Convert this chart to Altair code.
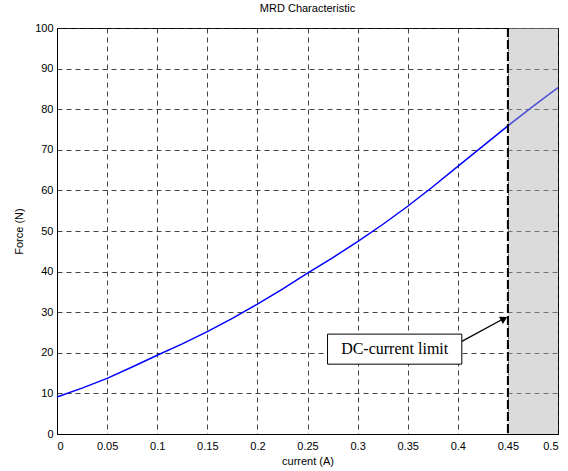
import altair as alt
import pandas as pd

# curve
current = [0.0, 0.025, 0.05, 0.075, 0.1, 0.125, 0.15, 0.175, 0.2, 0.225, 0.25,
           0.275, 0.3, 0.325, 0.35, 0.375, 0.4, 0.425, 0.45, 0.475, 0.5]
force = [9.1, 11.3, 13.7, 16.5, 19.4, 22.2, 25.2, 28.5, 32.0, 35.7, 39.6,
         43.4, 47.4, 51.6, 56.1, 60.9, 65.9, 70.9, 75.9, 80.7, 85.3]

x_ticks = [0, 0.05, 0.1, 0.15, 0.2, 0.25, 0.3, 0.35, 0.4, 0.45, 0.5]
y_ticks = [0, 10, 20, 30, 40, 50, 60, 70, 80, 90, 100]

limit_x = [0.45]
region_x = [0.45]
region_x2 = [0.5]

box_x = [0.27]
box_x2 = [0.404]
box_y = [17.2]
box_y2 = [24.6]
label_x = [0.337]
label_y = [20.9]
label_text = ["DC-current limit"]
arrow_x = [0.404]
arrow_y = [22.8]
arrow_x2 = [0.4465]
arrow_y2 = [28.5]
head_x = [0.4462]
head_y = [28.4]

curve_df = pd.DataFrame({"current": current, "force": force})
region_df = pd.DataFrame({"x": region_x, "x2": region_x2})
limit_df = pd.DataFrame({"x": limit_x})
box_df = pd.DataFrame({"x": box_x, "x2": box_x2, "y": box_y, "y2": box_y2})
label_df = pd.DataFrame({"x": label_x, "y": label_y, "t": label_text})
arrow_df = pd.DataFrame({"x": arrow_x, "y": arrow_y, "x2": arrow_x2, "y2": arrow_y2})
head_df = pd.DataFrame({"x": head_x, "y": head_y})

FONT = "Liberation Sans"

xscale = alt.Scale(domain=[0, 0.5], nice=False, zero=False)
yscale = alt.Scale(domain=[0, 100], nice=False)

common = dict(grid=True, ticks=False, domainColor="black", domainWidth=1,
              gridColor="#222222", gridDash=[5, 4], gridWidth=1, gridOpacity=0.85,
              labelFont=FONT, labelFontSize=11, labelColor="black",
              titleFont=FONT, titleFontSize=11, titleFontWeight="normal",
              titleColor="black")

xaxis = alt.Axis(values=x_ticks, format=".2~f", title="current (A)",
                 labelPadding=6, titlePadding=4, **common)
yaxis = alt.Axis(values=y_ticks, title="Force (N)",
                 labelPadding=4, titlePadding=10, **common)

line = alt.Chart(curve_df).mark_line(color="#0000ff", strokeWidth=1.5).encode(
    x=alt.X("current:Q", scale=xscale, axis=xaxis),
    y=alt.Y("force:Q", scale=yscale, axis=yaxis),
)

region = alt.Chart(region_df).mark_rect(color="#b0b0b0", opacity=0.45).encode(
    x=alt.X("x:Q", scale=xscale),
    x2="x2:Q",
    y=alt.value(0),
    y2=alt.value(406),
)

limit = alt.Chart(limit_df).mark_rule(color="black", strokeWidth=2,
                                      strokeDash=[9, 3]).encode(
    x=alt.X("x:Q", scale=xscale),
    y=alt.value(0),
    y2=alt.value(406),
)

arrow = alt.Chart(arrow_df).mark_rule(color="black", strokeWidth=1.3).encode(
    x=alt.X("x:Q", scale=xscale), x2="x2:Q",
    y=alt.Y("y:Q", scale=yscale), y2="y2:Q",
)

head = alt.Chart(head_df).mark_point(shape="triangle-up", filled=True,
                                     color="black", opacity=1, size=70,
                                     angle=61.5).encode(
    x=alt.X("x:Q", scale=xscale),
    y=alt.Y("y:Q", scale=yscale),
)

box = alt.Chart(box_df).mark_rect(fill="white", stroke="black",
                                  strokeWidth=1).encode(
    x=alt.X("x:Q", scale=xscale), x2="x2:Q",
    y=alt.Y("y:Q", scale=yscale), y2="y2:Q",
)

label = alt.Chart(label_df).mark_text(font="Liberation Serif", fontSize=16,
                                      color="black", align="center",
                                      baseline="middle").encode(
    x=alt.X("x:Q", scale=xscale),
    y=alt.Y("y:Q", scale=yscale),
    text="t:N",
)

chart = alt.layer(line, region, limit, arrow, head, box, label).properties(
    width=501,
    height=406,
    padding={"left": 57, "top": 28, "right": 10, "bottom": 37},
    autosize=alt.AutoSizeParams(type="none"),
    background="white",
    title=alt.TitleParams("MRD Characteristic", font=FONT, fontSize=11,
                          fontWeight="normal", color="black", offset=8),
).configure_view(
    stroke="black", strokeWidth=1
)

chart.save("out.html", embed_options={"renderer": "svg", "actions": False})
